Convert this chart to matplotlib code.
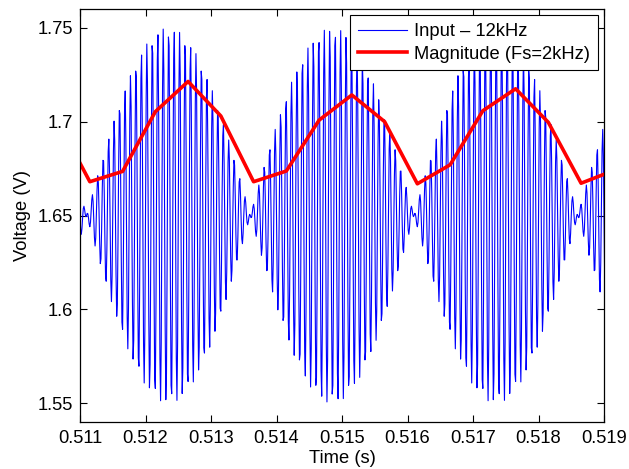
import numpy as np
import matplotlib
matplotlib.use("Agg")
import matplotlib.pyplot as plt

plt.rcParams['font.family'] = ['Liberation Sans', 'DejaVu Sans']

# Input tone: 12 kHz carrier, 200 Hz envelope around the 1.65 V bias
carrier_hz = 12e3
envelope_hz = 200.0
bias_v = 1.65
amplitude_v = 0.1
envelope_null_s = 0.5111
fs_input = 100e3
t_start, t_stop = 0.5105, 0.5195

# Magnitude estimate, one value every 0.5 ms (Fs = 2 kHz)
mag_t = [0.51065, 0.51115, 0.51165, 0.51215, 0.51265, 0.51315,
         0.51365, 0.51415, 0.51465, 0.51515, 0.51565, 0.51615,
         0.51665, 0.51715, 0.51765, 0.51815, 0.51865, 0.51915]
mag_v = [1.701, 1.668, 1.6735, 1.7053, 1.7214, 1.703,
         1.668, 1.6737, 1.7008, 1.7142, 1.700, 1.6669,
         1.677, 1.7058, 1.7175, 1.6996, 1.6672, 1.674]

xticks = [0.511, 0.512, 0.513, 0.514, 0.515, 0.516, 0.517, 0.518, 0.519]
yticks = [1.55, 1.6, 1.65, 1.7, 1.75]

FS = 13.2

t = np.arange(t_start, t_stop, 1.0 / fs_input)
env = np.sin(2 * np.pi * envelope_hz * (t - envelope_null_s))
v_in = bias_v + amplitude_v * env * np.sin(2 * np.pi * carrier_hz * t)

fig = plt.figure(figsize=(6.29, 4.69), dpi=100)
ax = fig.add_axes([0.1272, 0.1002, 0.8331, 0.8806])

ax.plot(t, v_in, color='#0000ff', lw=0.8, label='Input – 12kHz')
ax.plot(mag_t, mag_v, color='#ff0000', lw=2.6, label='Magnitude (Fs=2kHz)')

ax.set_xlim(0.511, 0.519)
ax.set_ylim(1.54, 1.76)
ax.set_xticks(xticks)
ax.set_xticklabels(['%.3f' % x for x in xticks])
ax.set_yticks(yticks)
ax.set_yticklabels(['1.55', '1.6', '1.65', '1.7', '1.75'])

ax.tick_params(direction='in', top=True, right=True, length=5, width=0.8,
               labelsize=FS)
ax.tick_params(axis='x', pad=6)
ax.tick_params(axis='y', pad=5)
for s in ax.spines.values():
    s.set_linewidth(0.9)

ax.set_xlabel('Time (s)', fontsize=FS, labelpad=2)
ax.set_ylabel('Voltage (V)', fontsize=FS, labelpad=5)

leg = ax.legend(loc='upper right', fontsize=FS, frameon=True, fancybox=False,
                edgecolor='black', framealpha=1, borderpad=0.42,
                handlelength=2.7, handletextpad=0.35, labelspacing=0.3,
                borderaxespad=0.35)
leg.get_frame().set_linewidth(0.8)

fig.savefig('out.png', dpi=100)
